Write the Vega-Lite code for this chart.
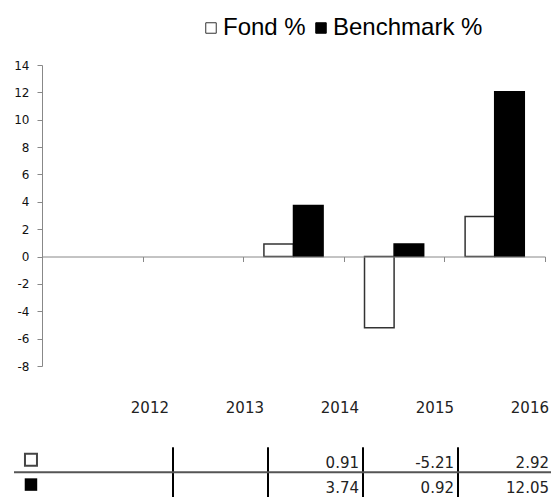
{
  "$schema": "https://vega.github.io/schema/vega-lite/v6.json",
  "padding": {"left": 13, "top": 16, "right": 0, "bottom": 0},
  "autosize": {"type": "pad"},
  "background": "white",
  "config": {"view": {"stroke": null}, "axis": {"grid": false}, "font": "DejaVu Sans"},
  "datasets": {
    "returns": [
      {"year": 2012, "series": "Fond %", "value": null},
      {"year": 2012, "series": "Benchmark %", "value": null},
      {"year": 2013, "series": "Fond %", "value": null},
      {"year": 2013, "series": "Benchmark %", "value": null},
      {"year": 2014, "series": "Fond %", "value": 0.91},
      {"year": 2014, "series": "Benchmark %", "value": 3.74},
      {"year": 2015, "series": "Fond %", "value": -5.21},
      {"year": 2015, "series": "Benchmark %", "value": 0.92},
      {"year": 2016, "series": "Fond %", "value": 2.92},
      {"year": 2016, "series": "Benchmark %", "value": 12.05}
    ]
  },
  "bounds": "flush",
  "spacing": 44,
  "resolve": {"scale": {"x": "independent", "y": "independent"}},
  "vconcat": [
    {
      "width": 503,
      "height": 301,
      "data": {"name": "returns"},
      "mark": {"type": "bar", "strokeWidth": 1.5},
      "encoding": {
        "x": {
          "field": "year", "type": "ordinal",
          "scale": {"domain": [2012, 2013, 2014, 2015, 2016], "paddingInner": 0, "paddingOuter": 0},
          "axis": {"orient": "bottom", "offset": -109.5, "labels": false, "title": null, "tickBand": "extent", "domainColor": "#888", "tickColor": "#888", "tickSize": 5, "domainWidth": 1, "zindex": 1}
        },
        "xOffset": {
          "field": "series", "type": "nominal",
          "scale": {"domain": ["Fond %", "Benchmark %"], "paddingInner": 0, "paddingOuter": 0.7}
        },
        "y": {
          "field": "value", "type": "quantitative",
          "scale": {"domain": [-8, 14], "nice": false},
          "axis": {"title": null, "values": [-8, -6, -4, -2, 0, 2, 4, 6, 8, 10, 12, 14], "labelExpr": "replace(datum.label, '\u2212', '-')", "domainColor": "#888", "tickColor": "#888", "tickSize": 5, "labelPadding": 8, "labelFont": "DejaVu Sans", "labelFontSize": 12, "labelColor": "#111"}
        },
        "fill": {
          "field": "series", "type": "nominal",
          "scale": {"domain": ["Fond %", "Benchmark %"], "range": ["white", "black"]},
          "legend": {"title": null, "orient": "none", "legendX": 157, "legendY": -49, "direction": "horizontal", "symbolType": "square", "symbolSize": 110, "symbolStrokeColor": "#888", "symbolStrokeWidth": 1, "labelFont": "Liberation Sans", "labelFontSize": 24, "labelColor": "black", "labelOffset": 0, "columnPadding": 3, "padding": 0, "labelLimit": 300}
        },
        "stroke": {
          "field": "series", "type": "nominal",
          "scale": {"domain": ["Fond %", "Benchmark %"], "range": ["#333", "#000"]},
          "legend": null
        }
      }
    },
    {
      "width": 510,
      "height": 87,
      "data": {"name": "returns"},
      "layer": [
        {
          "transform": [{"filter": "datum.series == 'Fond %' && datum.year < 2016"}],
          "mark": {"type": "rule", "color": "black", "strokeWidth": 2},
          "encoding": {
            "x": {"field": "year", "type": "quantitative", "scale": {"domain": [2010.6211, 2015.9895], "nice": false, "zero": false}, "axis": null},
            "y": {"datum": "top", "type": "nominal", "scale": {"type": "point", "domain": ["header", "s1", "s2", "top", "Fond %", "mid", "Benchmark %", "bot"], "padding": 0}, "axis": null},
            "y2": {"datum": "bot"}
          }
        },
        {
          "data": {"values": [{}]},
          "mark": {"type": "rule", "color": "#555", "strokeWidth": 2},
          "encoding": {
            "x": {"datum": 2010.3264, "type": "quantitative", "scale": {"domain": [2010.6211, 2015.9895], "nice": false, "zero": false}, "axis": null},
            "x2": {"datum": 2015.9895},
            "y": {"datum": "mid", "type": "nominal", "scale": {"type": "point", "domain": ["header", "s1", "s2", "top", "Fond %", "mid", "Benchmark %", "bot"], "padding": 0}, "axis": null}
          }
        },
        {
          "transform": [{"filter": "datum.year == 2012 && datum.series == 'Fond %'"}],
          "mark": {"type": "point", "shape": "square", "filled": false, "fill": "white", "stroke": "#444", "strokeWidth": 2, "size": 144, "opacity": 1},
          "encoding": {
            "x": {"datum": 2010.505, "type": "quantitative", "scale": {"domain": [2010.6211, 2015.9895], "nice": false, "zero": false}, "axis": null},
            "y": {"field": "series", "type": "nominal", "scale": {"type": "point", "domain": ["header", "s1", "s2", "top", "Fond %", "mid", "Benchmark %", "bot"], "padding": 0}, "axis": null}
          }
        },
        {
          "transform": [{"filter": "datum.year == 2012 && datum.series == 'Benchmark %'"}],
          "mark": {"type": "point", "shape": "square", "filled": true, "fill": "black", "size": 156, "opacity": 1},
          "encoding": {
            "x": {"datum": 2010.505, "type": "quantitative", "scale": {"domain": [2010.6211, 2015.9895], "nice": false, "zero": false}, "axis": null},
            "y": {"field": "series", "type": "nominal", "scale": {"type": "point", "domain": ["header", "s1", "s2", "top", "Fond %", "mid", "Benchmark %", "bot"], "padding": 0}, "axis": null}
          }
        },
        {
          "transform": [{"filter": "datum.series == 'Fond %'"}],
          "mark": {"type": "text", "align": "right", "baseline": "middle", "dx": -4, "dy": -2, "font": "DejaVu Sans", "fontSize": 15, "color": "#222"},
          "encoding": {
            "x": {"field": "year", "type": "quantitative", "scale": {"domain": [2010.6211, 2015.9895], "nice": false, "zero": false}, "axis": null},
            "y": {"datum": "header", "type": "nominal", "scale": {"type": "point", "domain": ["header", "s1", "s2", "top", "Fond %", "mid", "Benchmark %", "bot"], "padding": 0}, "axis": null},
            "text": {"field": "year", "type": "ordinal"}
          }
        },
        {
          "transform": [{"filter": "datum.value != null"}],
          "mark": {"type": "text", "align": "right", "baseline": "middle", "dx": -4, "dy": 3, "font": "DejaVu Sans", "fontSize": 15, "color": "#222", "text": {"expr": "replace(format(datum.value, '.2f'), '\u2212', '-')"}},
          "encoding": {
            "x": {"field": "year", "type": "quantitative", "scale": {"domain": [2010.6211, 2015.9895], "nice": false, "zero": false}, "axis": null},
            "y": {"field": "series", "type": "nominal", "scale": {"type": "point", "domain": ["header", "s1", "s2", "top", "Fond %", "mid", "Benchmark %", "bot"], "padding": 0}, "axis": null}
          }
        }
      ]
    }
  ]
}
